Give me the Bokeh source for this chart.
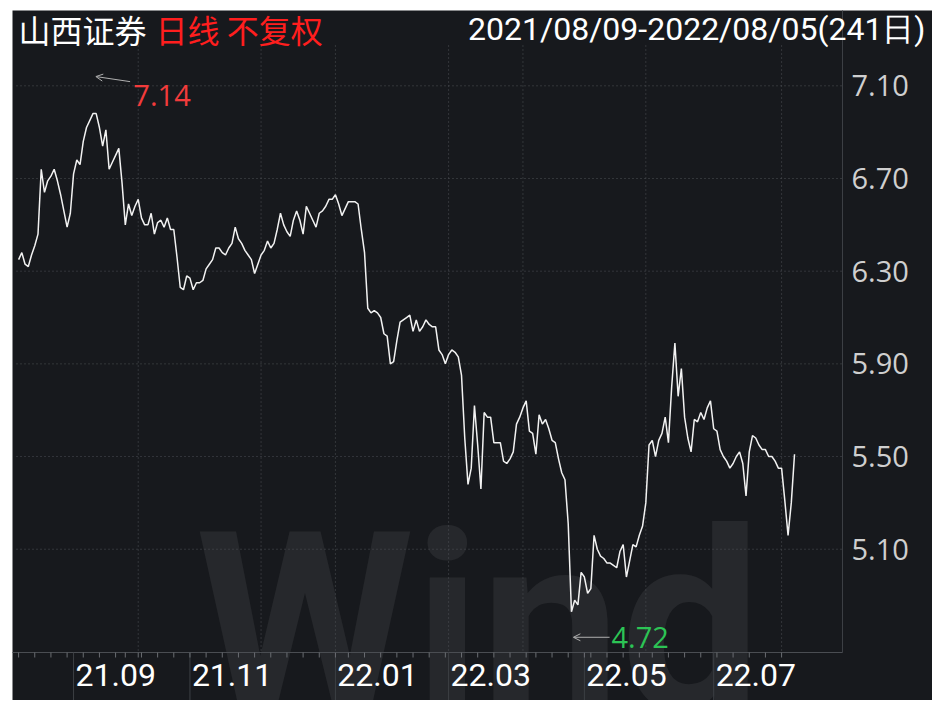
import pandas as pd
from bokeh.plotting import figure
from bokeh.models import Range1d, Arrow, OpenHead, ColumnDataSource
from bokeh.core.properties import value
from bokeh.embed import file_html
from bokeh.resources import INLINE

# ---------------- data ----------------
start_date = "2021-08-09"
end_date = "2022-08-05"
holidays = ["2021-09-20", "2021-09-21", "2021-10-01", "2021-10-04", "2021-10-05",
            "2021-10-06", "2021-10-07", "2022-01-03", "2022-01-31", "2022-02-01",
            "2022-02-02", "2022-02-03", "2022-02-04", "2022-04-04", "2022-04-05",
            "2022-05-02", "2022-05-03", "2022-05-04", "2022-06-03"]

close = [
    6.35, 6.38, 6.33, 6.32, 6.37, 6.41, 6.46, 6.74, 6.64, 6.69,
    6.71, 6.74, 6.69, 6.63, 6.56, 6.49, 6.55, 6.72, 6.78, 6.76,
    6.86, 6.92, 6.95, 6.98, 6.98, 6.92, 6.84, 6.91, 6.74, 6.77,
    6.80, 6.83, 6.68, 6.50, 6.59, 6.54, 6.58, 6.61, 6.53, 6.50,
    6.50, 6.55, 6.46, 6.51, 6.52, 6.49, 6.53, 6.48, 6.48, 6.36,
    6.23, 6.22, 6.28, 6.27, 6.22, 6.25, 6.25, 6.26, 6.31, 6.33,
    6.35, 6.40, 6.40, 6.38, 6.37, 6.40, 6.42, 6.49, 6.44, 6.42,
    6.39, 6.37, 6.35, 6.29, 6.33, 6.37, 6.39, 6.43, 6.40, 6.42,
    6.48, 6.55, 6.50, 6.47, 6.45, 6.52, 6.56, 6.52, 6.46, 6.58,
    6.55, 6.52, 6.49, 6.55, 6.56, 6.58, 6.61, 6.61, 6.63, 6.59,
    6.54, 6.57, 6.60, 6.60, 6.60, 6.59, 6.48, 6.38, 6.14, 6.12,
    6.13, 6.12, 6.10, 6.03, 6.02, 5.90, 5.91, 6.00, 6.08, 6.09,
    6.10, 6.11, 6.04, 6.09, 6.04, 6.06, 6.09, 6.07, 6.06, 6.06,
    5.96, 5.94, 5.90, 5.94, 5.96, 5.95, 5.93, 5.85, 5.58, 5.38,
    5.45, 5.72, 5.55, 5.36, 5.69, 5.67, 5.67, 5.56, 5.56, 5.56,
    5.48, 5.47, 5.49, 5.52, 5.64, 5.67, 5.71, 5.74, 5.61, 5.60,
    5.51, 5.68, 5.64, 5.66, 5.62, 5.57, 5.56, 5.49, 5.43, 5.40,
    5.21, 4.83, 4.88, 4.86, 5.00, 4.98, 4.91, 4.93, 5.16, 5.10,
    5.07, 5.06, 5.04, 5.04, 5.03, 5.02, 5.09, 5.12, 4.98, 5.05,
    5.12, 5.11, 5.16, 5.20, 5.30, 5.55, 5.57, 5.50, 5.57, 5.60,
    5.67, 5.56, 5.80, 5.99, 5.76, 5.88, 5.67, 5.58, 5.52, 5.66,
    5.65, 5.69, 5.66, 5.71, 5.74, 5.62, 5.61, 5.53, 5.50, 5.48,
    5.45, 5.47, 5.50, 5.52, 5.47, 5.33, 5.52, 5.59, 5.58, 5.55,
    5.53, 5.53, 5.50, 5.50, 5.48, 5.45, 5.45, 5.31, 5.16, 5.30,
    5.51,
]

high_value = 7.14
low_value = 4.72

y_ticks = [5.10, 5.50, 5.90, 6.30, 6.70, 7.10]
label_months = ["2021-09", "2021-11", "2022-01", "2022-03", "2022-05", "2022-07"]
label_texts = ["21.09", "21.11", "22.01", "22.03", "22.05", "22.07"]
grid_months = ["2021-10", "2021-12", "2022-01", "2022-03", "2022-04", "2022-06", "2022-08"]

title_name = "山西证券"
title_mode = "日线 不复权"
title_range = "2021/08/09-2022/08/05(241日)"
watermark = "Wind"

# ---------------- derived ----------------
dates = pd.bdate_range(start_date, end_date)
dates = dates[~dates.isin(pd.to_datetime(holidays))]
n = min(len(dates), len(close))
idx = list(range(n))

first_idx = {}
week_ticks = []
for i, d in enumerate(dates[:n]):
    first_idx.setdefault(d.strftime("%Y-%m"), i)
    if i == 0 or d.isocalendar()[1] != dates[i - 1].isocalendar()[1]:
        week_ticks.append(i)

sep_ticks = [first_idx[m] for m in label_months]
grid_ticks = [first_idx[m] for m in grid_months if m in first_idx]

# ---------------- geometry (px inside the figure) ----------------
W, H = 932, 700
PX_PER_DAY = 3.233
PX_PER_UNIT = 231.7
X0 = -18.1 / PX_PER_DAY
X1 = X0 + W / PX_PER_DAY
Y1 = 6.70 + 178 / PX_PER_UNIT
Y0 = Y1 - H / PX_PER_UNIT

PANEL_L, PANEL_T = 12, 10
PLOT_L, PLOT_R, PLOT_T, PLOT_B = 16, 842, 45, 652
AXIS_B = 700


def px(v):
    return X0 + v / PX_PER_DAY


def py(v):
    return Y1 - v / PX_PER_UNIT


BG = "#17191d"
GRID = "#4f5257"
AXIS = "#3c3f44"

p = figure(width=W, height=H, x_range=Range1d(X0, X1), y_range=Range1d(Y0, Y1),
           output_backend="svg", toolbar_location=None,
           x_axis_location=None, y_axis_location=None,
           min_border=0, min_border_left=0, min_border_right=0,
           min_border_top=0, min_border_bottom=0)
p.background_fill_color = "#ffffff"
p.border_fill_color = "#ffffff"
p.outline_line_color = None
p.xgrid.visible = False
p.ygrid.visible = False

# dark panel
p.quad(left=[px(PANEL_L)], right=[px(W)], top=[py(PANEL_T)], bottom=[py(AXIS_B + 3)],
       fill_color=BG, line_color=None)

# watermark
p.text(x=[px(195)], y=[py(624)], text=[watermark], text_font=value("Roboto"),
       text_font_style="bold", text_font_size="250px", text_color="#ffffff",
       text_alpha=0.065, text_baseline="alphabetic", text_align="left")

# grids (dotted)
p.segment(x0=[px(PLOT_L)] * len(y_ticks), x1=[px(PLOT_R)] * len(y_ticks),
          y0=y_ticks, y1=y_ticks, line_color=GRID, line_dash="1 3", line_width=1)
p.segment(x0=grid_ticks, x1=grid_ticks, y0=[py(PLOT_T)] * len(grid_ticks),
          y1=[py(PLOT_B)] * len(grid_ticks), line_color=GRID, line_dash="1 3", line_width=1)

# price line
src = ColumnDataSource(dict(i=idx, close=close[:n]))
p.line(x="i", y="close", source=src, line_color="#f2f2f2", line_width=1.5)

# right axis
p.segment(x0=[px(PLOT_R)], x1=[px(PLOT_R)], y0=[py(PANEL_T)], y1=[py(PLOT_B)],
          line_color=AXIS, line_width=1)
p.text(x=[px(PLOT_R + 9)] * len(y_ticks), y=y_ticks,
       text=[f"{t:.2f}" for t in y_ticks], text_font=value("Open Sans"),
       text_font_size="29px", text_color="#cfcfcf", text_baseline="middle",
       text_align="left")

# bottom axis
p.segment(x0=[px(PANEL_L)], x1=[px(PLOT_R)], y0=[py(PLOT_B)], y1=[py(PLOT_B)],
          line_color="#4a4d52", line_width=1)
p.segment(x0=sep_ticks, x1=sep_ticks, y0=[py(PLOT_B)] * len(sep_ticks),
          y1=[py(AXIS_B)] * len(sep_ticks), line_color=AXIS, line_width=1)
p.segment(x0=week_ticks, x1=week_ticks, y0=[py(PLOT_B)] * len(week_ticks),
          y1=[py(PLOT_B + 5)] * len(week_ticks), line_color="#6a6d72", line_width=1)
p.segment(x0=[px(PANEL_L)], x1=[px(W)], y0=[py(AXIS_B)], y1=[py(AXIS_B)],
          line_color="#2a2c30", line_width=1)
p.text(x=[t + 0.6 for t in sep_ticks], y=[py(674)] * len(sep_ticks), text=label_texts,
       text_font=value("Roboto"), text_font_size="32px", text_color="#ffffff",
       text_baseline="middle", text_align="left")

# high / low annotations
hi_i = max(idx, key=lambda k: close[k])
lo_i = min(idx, key=lambda k: close[k])
p.add_layout(Arrow(end=OpenHead(size=7, line_color="#b0b0b0", line_width=1),
                   x_start=hi_i + 11.5, y_start=high_value - 0.022,
                   x_end=hi_i + 0.9, y_end=high_value,
                   line_color="#b0b0b0", line_width=1))
p.text(x=[hi_i + 12.5], y=[high_value - 0.08], text=[f"{high_value:.2f}"],
       text_font=value("Open Sans"), text_font_size="29px", text_color="#f23b3b",
       text_baseline="middle", text_align="left")
p.add_layout(Arrow(end=OpenHead(size=7, line_color="#b0b0b0", line_width=1),
                   x_start=lo_i + 11.8, y_start=low_value,
                   x_end=lo_i + 0.6, y_end=low_value,
                   line_color="#b0b0b0", line_width=1))
p.text(x=[lo_i + 12.4], y=[low_value], text=[f"{low_value:.2f}"],
       text_font=value("Open Sans"), text_font_size="29px", text_color="#2cc455",
       text_baseline="middle", text_align="left")

# title bar
p.text(x=[px(18)], y=[py(28)], text=[title_name], text_font=value("Noto Sans CJK SC"),
       text_font_size="32px", text_color="#ffffff", text_baseline="middle",
       text_align="left")
p.text(x=[px(155)], y=[py(28)], text=[title_mode], text_font=value("Noto Sans CJK SC"),
       text_font_size="32px", text_color="#ff1e1e", text_baseline="middle",
       text_align="left")
p.text(x=[px(925)], y=[py(28)], text=[title_range], text_font=value("Roboto"),
       text_font_size="32px", text_color="#ffffff", text_baseline="middle",
       text_align="right")

open("out.html", "w").write(file_html(p, INLINE))
